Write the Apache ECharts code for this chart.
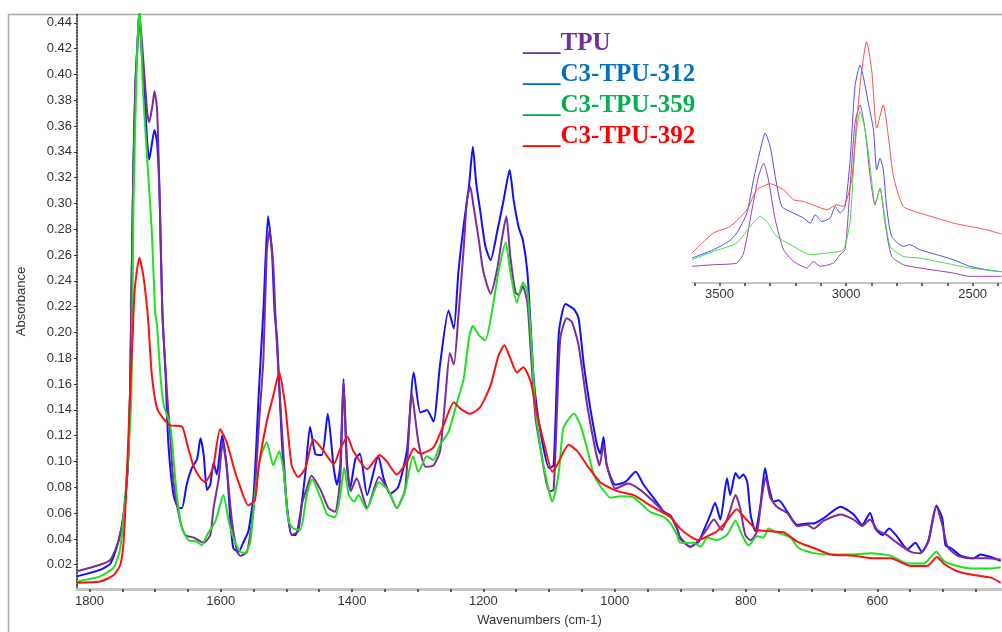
<!DOCTYPE html>
<html>
<head>
<meta charset="utf-8">
<script src="https://cdn.jsdelivr.net/npm/echarts@6.0.0/dist/echarts.min.js"></script>
<style>
html, body { margin: 0; padding: 0; background: #fff; }
#chart { width: 1002px; height: 632px; }
</style>
</head>
<body>
<div id="chart"></div>
<script>
// main spectrum, [wavenumber, absorbance]
var tpu = [
    [1819, 0.015], [1784, 0.020], [1768, 0.024], [1756, 0.038], [1748, 0.059], [1741, 0.102],
    [1738, 0.160], [1736, 0.234], [1733, 0.330], [1730, 0.393], [1726, 0.432], [1724, 0.448],
    [1718, 0.411], [1712, 0.370], [1709, 0.363], [1704, 0.376], [1701, 0.387], [1697, 0.373],
    [1693, 0.303], [1689, 0.216], [1682, 0.154], [1677, 0.120], [1672, 0.084], [1662, 0.054],
    [1654, 0.043], [1641, 0.041], [1626, 0.037], [1616, 0.043], [1611, 0.064], [1603, 0.087],
    [1597, 0.115], [1591, 0.095], [1583, 0.054], [1575, 0.030], [1570, 0.027], [1560, 0.030],
    [1550, 0.064], [1542, 0.128], [1535, 0.180], [1530, 0.262], [1526, 0.279], [1520, 0.252],
    [1517, 0.216], [1512, 0.167], [1504, 0.102], [1499, 0.064], [1492, 0.043], [1482, 0.046],
    [1476, 0.068], [1469, 0.079], [1462, 0.089], [1448, 0.078], [1436, 0.064], [1426, 0.061],
    [1418, 0.087], [1413, 0.161], [1408, 0.097], [1402, 0.077], [1393, 0.087], [1377, 0.064],
    [1359, 0.088], [1344, 0.077], [1332, 0.064], [1319, 0.079], [1309, 0.153], [1299, 0.115],
    [1288, 0.096], [1276, 0.097], [1266, 0.108], [1258, 0.149], [1251, 0.184], [1245, 0.175],
    [1238, 0.213], [1230, 0.265], [1225, 0.303], [1220, 0.313], [1215, 0.298], [1207, 0.272],
    [1200, 0.247], [1189, 0.230], [1179, 0.249], [1172, 0.272], [1165, 0.290], [1159, 0.259],
    [1151, 0.231], [1146, 0.229], [1140, 0.236], [1133, 0.223], [1128, 0.187], [1121, 0.136],
    [1113, 0.110], [1100, 0.077], [1093, 0.078], [1083, 0.195], [1073, 0.211], [1065, 0.208],
    [1055, 0.190], [1042, 0.144], [1029, 0.108], [1023, 0.097], [1017, 0.113], [1012, 0.097],
    [999, 0.079], [979, 0.083], [961, 0.078], [941, 0.069], [925, 0.061], [915, 0.058],
    [905, 0.048], [900, 0.040], [885, 0.034], [872, 0.039], [859, 0.048], [849, 0.055],
    [837, 0.047], [826, 0.059], [816, 0.074], [809, 0.064], [801, 0.043], [793, 0.039],
    [783, 0.046], [776, 0.072], [770, 0.088], [763, 0.072], [753, 0.065], [737, 0.060],
    [722, 0.050], [707, 0.051], [697, 0.048], [682, 0.054], [656, 0.059], [636, 0.055],
    [623, 0.050], [611, 0.055], [600, 0.047], [585, 0.043], [570, 0.037], [549, 0.030],
    [534, 0.029], [522, 0.038], [510, 0.065], [501, 0.051], [493, 0.034], [478, 0.027],
    [458, 0.025], [433, 0.025], [412, 0.024]
];
var tpu312 = [
    [1819, 0.011], [1784, 0.016], [1768, 0.021], [1756, 0.038], [1748, 0.059], [1741, 0.102],
    [1738, 0.160], [1736, 0.234], [1733, 0.330], [1730, 0.393], [1726, 0.432], [1725, 0.445],
    [1716, 0.382], [1712, 0.347], [1709, 0.334], [1701, 0.357], [1697, 0.347], [1693, 0.303],
    [1689, 0.216], [1684, 0.167], [1680, 0.115], [1672, 0.074], [1664, 0.064], [1659, 0.064],
    [1652, 0.082], [1644, 0.095], [1636, 0.102], [1631, 0.118], [1626, 0.105], [1621, 0.078],
    [1616, 0.082], [1611, 0.099], [1606, 0.090], [1598, 0.120], [1591, 0.097], [1586, 0.059],
    [1581, 0.033], [1573, 0.030], [1565, 0.038], [1558, 0.046], [1550, 0.074], [1542, 0.154],
    [1535, 0.218], [1528, 0.290], [1522, 0.262], [1518, 0.216], [1514, 0.193], [1507, 0.116],
    [1499, 0.064], [1492, 0.043], [1486, 0.043], [1479, 0.059], [1471, 0.092], [1464, 0.127],
    [1456, 0.106], [1446, 0.105], [1437, 0.137], [1428, 0.095], [1423, 0.082], [1418, 0.097],
    [1413, 0.164], [1408, 0.102], [1403, 0.079], [1395, 0.102], [1388, 0.106], [1377, 0.074],
    [1360, 0.104], [1352, 0.087], [1342, 0.075], [1330, 0.080], [1321, 0.097], [1316, 0.110],
    [1306, 0.169], [1296, 0.138], [1286, 0.140], [1276, 0.131], [1266, 0.175], [1253, 0.217],
    [1245, 0.203], [1238, 0.247], [1230, 0.283], [1222, 0.313], [1216, 0.344], [1211, 0.316],
    [1205, 0.295], [1197, 0.267], [1189, 0.256], [1179, 0.278], [1169, 0.303], [1160, 0.326],
    [1154, 0.303], [1146, 0.281], [1140, 0.272], [1133, 0.247], [1128, 0.205], [1123, 0.162],
    [1113, 0.123], [1100, 0.095], [1093, 0.097], [1085, 0.200], [1075, 0.222], [1062, 0.218],
    [1055, 0.211], [1047, 0.175], [1037, 0.141], [1027, 0.113], [1022, 0.106], [1017, 0.119],
    [1012, 0.097], [999, 0.082], [984, 0.084], [968, 0.092], [956, 0.082], [941, 0.072],
    [925, 0.061], [915, 0.058], [905, 0.048], [900, 0.041], [885, 0.034], [872, 0.038],
    [864, 0.047], [854, 0.059], [847, 0.068], [839, 0.055], [829, 0.087], [824, 0.074],
    [816, 0.091], [810, 0.087], [804, 0.090], [798, 0.084], [793, 0.059], [786, 0.046],
    [778, 0.066], [771, 0.095], [766, 0.082], [758, 0.069], [750, 0.070], [737, 0.061],
    [722, 0.051], [707, 0.052], [697, 0.052], [682, 0.056], [656, 0.065], [636, 0.059],
    [623, 0.051], [611, 0.060], [603, 0.048], [592, 0.043], [582, 0.048], [570, 0.042],
    [554, 0.032], [542, 0.037], [532, 0.030], [522, 0.039], [510, 0.066], [501, 0.056],
    [496, 0.035], [488, 0.033], [473, 0.027], [453, 0.025], [443, 0.028], [427, 0.026],
    [412, 0.023]
];
var tpu359 = [
    [1819, 0.007], [1784, 0.011], [1763, 0.018], [1753, 0.033], [1743, 0.090], [1736, 0.154],
    [1733, 0.300], [1728, 0.406], [1724, 0.452], [1718, 0.383], [1712, 0.334], [1705, 0.278],
    [1700, 0.216], [1697, 0.205], [1692, 0.167], [1687, 0.144], [1677, 0.128], [1672, 0.102],
    [1667, 0.074], [1659, 0.048], [1649, 0.039], [1637, 0.038], [1629, 0.035], [1621, 0.043],
    [1608, 0.054], [1596, 0.074], [1588, 0.054], [1581, 0.041], [1570, 0.030], [1563, 0.029],
    [1555, 0.038], [1548, 0.074], [1540, 0.102], [1530, 0.115], [1520, 0.097], [1511, 0.108],
    [1504, 0.092], [1497, 0.054], [1489, 0.048], [1479, 0.047], [1469, 0.074], [1461, 0.086],
    [1448, 0.072], [1438, 0.059], [1426, 0.057], [1418, 0.074], [1412, 0.095], [1405, 0.074],
    [1397, 0.069], [1390, 0.074], [1378, 0.063], [1359, 0.084], [1344, 0.077], [1332, 0.064],
    [1320, 0.076], [1307, 0.104], [1299, 0.092], [1286, 0.104], [1276, 0.101], [1266, 0.113],
    [1253, 0.123], [1240, 0.146], [1230, 0.164], [1222, 0.195], [1216, 0.205], [1207, 0.198],
    [1197, 0.194], [1187, 0.216], [1177, 0.247], [1166, 0.270], [1159, 0.247], [1149, 0.223],
    [1140, 0.239], [1133, 0.232], [1128, 0.200], [1121, 0.144], [1113, 0.110], [1100, 0.077],
    [1095, 0.069], [1085, 0.092], [1078, 0.126], [1062, 0.137], [1052, 0.128], [1042, 0.110],
    [1032, 0.090], [1022, 0.081], [1006, 0.072], [991, 0.073], [971, 0.072], [946, 0.061],
    [925, 0.057], [915, 0.052], [905, 0.043], [900, 0.037], [880, 0.037], [869, 0.034],
    [859, 0.041], [844, 0.039], [829, 0.043], [816, 0.054], [806, 0.043], [796, 0.035],
    [783, 0.042], [773, 0.041], [766, 0.048], [753, 0.045], [732, 0.041], [720, 0.033],
    [697, 0.029], [671, 0.028], [636, 0.028], [610, 0.029], [580, 0.027], [554, 0.021],
    [529, 0.021], [510, 0.030], [499, 0.023], [478, 0.019], [453, 0.017], [427, 0.017],
    [412, 0.018]
];
var tpu392 = [
    [1819, 0.006], [1784, 0.007], [1763, 0.012], [1753, 0.020], [1748, 0.038], [1743, 0.090],
    [1738, 0.154], [1734, 0.200], [1731, 0.234], [1724, 0.258], [1718, 0.244], [1712, 0.218],
    [1710, 0.205], [1705, 0.167], [1697, 0.141], [1687, 0.133], [1677, 0.128], [1659, 0.127],
    [1652, 0.115], [1642, 0.097], [1631, 0.087], [1624, 0.084], [1616, 0.090], [1611, 0.097],
    [1601, 0.125], [1591, 0.115], [1580, 0.095], [1575, 0.087], [1558, 0.066], [1548, 0.070],
    [1542, 0.097], [1530, 0.131], [1520, 0.151], [1511, 0.169], [1502, 0.144], [1492, 0.097],
    [1482, 0.088], [1471, 0.095], [1459, 0.117], [1446, 0.110], [1428, 0.098], [1418, 0.110],
    [1407, 0.119], [1398, 0.108], [1377, 0.094], [1358, 0.105], [1347, 0.100], [1332, 0.090],
    [1316, 0.100], [1306, 0.110], [1296, 0.106], [1276, 0.111], [1260, 0.129], [1245, 0.146],
    [1235, 0.141], [1220, 0.137], [1205, 0.142], [1189, 0.159], [1177, 0.182], [1168, 0.190],
    [1159, 0.180], [1149, 0.169], [1139, 0.173], [1128, 0.162], [1118, 0.136], [1108, 0.115],
    [1095, 0.092], [1088, 0.097], [1070, 0.113], [1057, 0.108], [1042, 0.097], [1022, 0.084],
    [996, 0.077], [971, 0.074], [946, 0.066], [925, 0.060], [915, 0.057], [900, 0.048],
    [885, 0.042], [872, 0.039], [859, 0.042], [844, 0.046], [829, 0.054], [814, 0.063],
    [801, 0.056], [783, 0.047], [763, 0.046], [742, 0.045], [722, 0.038], [697, 0.033],
    [671, 0.028], [636, 0.027], [605, 0.025], [580, 0.025], [549, 0.019], [524, 0.019],
    [509, 0.026], [499, 0.021], [478, 0.015], [453, 0.012], [427, 0.010], [412, 0.006]
];

// inset, 3600-2400 cm-1, unscaled height
var insetTpu = [
    [3609, 5], [3524, 5.5], [3432, 6], [3405, 9], [3372, 22], [3346, 32], [3326, 36], [3307, 31],
    [3280, 19], [3247, 10], [3208, 6.5], [3155, 4.5], [3129, 6.5], [3103, 5], [3050, 6],
    [3024, 8.5], [3004, 10], [2984, 29], [2965, 48], [2945, 53.5], [2925, 46], [2905, 32],
    [2886, 23.5], [2866, 28.5], [2846, 18], [2820, 8], [2774, 5.5], [2708, 4.5], [2577, 3],
    [2511, 2], [2400, 2], [2385, 2]
];
var inset312 = [
    [3609, 7.5], [3524, 10], [3464, 12.5], [3432, 15], [3392, 21], [3366, 31], [3339, 40],
    [3320, 45], [3300, 41], [3280, 32], [3254, 23], [3208, 21], [3168, 19.5], [3142, 18],
    [3122, 20.5], [3096, 18.5], [3063, 19.5], [3043, 23], [3024, 21], [3004, 23], [2984, 37],
    [2965, 59], [2945, 65.5], [2932, 62], [2912, 54], [2892, 46], [2879, 34], [2866, 37.5],
    [2853, 34], [2840, 23], [2820, 14], [2774, 11], [2748, 11.5], [2708, 10], [2642, 8.5],
    [2577, 7], [2511, 5], [2445, 4], [2400, 3.5], [2385, 3.4]
];
var inset359 = [
    [3609, 7], [3524, 9.5], [3432, 12], [3379, 17], [3339, 20], [3313, 18.5], [3274, 14],
    [3208, 11], [3142, 8.5], [3076, 9], [3011, 10], [2984, 19], [2965, 41], [2945, 51.5],
    [2925, 46], [2905, 35], [2886, 24], [2879, 25], [2866, 28.5], [2853, 23], [2826, 11],
    [2774, 8], [2708, 7.5], [2642, 6.5], [2577, 5.5], [2511, 4.5], [2400, 3.5], [2385, 3.4]
];
var inset392 = [
    [3609, 9], [3524, 15], [3458, 17], [3392, 22], [3353, 28], [3300, 29.8], [3247, 28],
    [3208, 25], [3168, 24.5], [3116, 23], [3076, 22], [3037, 23.5], [3011, 23], [2978, 31],
    [2958, 49], [2938, 64], [2919, 72.5], [2899, 64], [2879, 46.5], [2853, 53.5], [2833, 44],
    [2813, 32], [2774, 23], [2708, 21], [2642, 19.5], [2577, 18], [2511, 17], [2445, 16],
    [2400, 15], [2385, 14.8]
];

var names = ['TPU', 'C3-TPU-312', 'C3-TPU-359', 'C3-TPU-392'];
var legendColors = ['#7030a0', '#0070c0', '#00b050', '#ff0000'];
var lineColors = ['#7f2a9a', '#1010ff', '#20e020', '#ff1010'];
var insetColors = ['#9a40b0', '#4a4aff', '#40e040', '#ff4a4a'];

var xLabels = [600, 800, 1000, 1200, 1400, 1600, 1800];
var xTicks = [450, 500, 550, 600, 650, 700, 750, 800, 850, 900, 950, 1000, 1050, 1100, 1150,
    1200, 1250, 1300, 1350, 1400, 1450, 1500, 1550, 1600, 1650, 1700, 1750, 1800];
var yLabels = [0.02, 0.04, 0.06, 0.08, 0.10, 0.12, 0.14, 0.16, 0.18, 0.20, 0.22, 0.24, 0.26,
    0.28, 0.30, 0.32, 0.34, 0.36, 0.38, 0.40, 0.42, 0.44];
var insetLabels = [2500, 3000, 3500];
var insetTicks = [2400, 2500, 2600, 2700, 2800, 2900, 3000, 3100, 3200, 3300, 3400, 3500, 3600];

var mainData = [tpu, tpu312, tpu359, tpu392];
var insetData = [insetTpu, inset312, inset359, inset392];
var drawOrder = [1, 0, 2, 3];

var myChart = echarts.init(document.getElementById('chart'));

var series = [];
drawOrder.forEach(function (i) {
    series.push({
        name: names[i],
        type: 'line',
        xAxisIndex: 0,
        yAxisIndex: 0,
        data: mainData[i],
        symbol: 'none',
        smooth: 0.2,
        lineStyle: { color: lineColors[i], width: 2 },
        itemStyle: { color: lineColors[i] }
    });
});
drawOrder.forEach(function (i) {
    series.push({
        name: names[i],
        type: 'line',
        xAxisIndex: 1,
        yAxisIndex: 1,
        data: insetData[i],
        symbol: 'none',
        smooth: 0.2,
        lineStyle: { color: insetColors[i], width: 1 },
        itemStyle: { color: insetColors[i] }
    });
});

var axisFont = { color: '#333', fontSize: 13, fontFamily: 'Liberation Sans, Arial, sans-serif' };
var plainNumber = function (v) { return String(v); };

var option = {
    animation: false,
    backgroundColor: '#fff',
    graphic: [{
        type: 'rect',
        shape: { x: 8.5, y: 14.5, width: 1100, height: 700 },
        style: { fill: null, stroke: '#a8a8a8', lineWidth: 1.5 },
        silent: true
    }],
    legend: {
        data: names.map(function (n, i) {
            return { name: n, textStyle: { color: legendColors[i] } };
        }),
        orient: 'vertical',
        left: 517,
        top: 31,
        padding: 0,
        icon: 'none',
        itemWidth: 1,
        itemHeight: 1,
        itemGap: 6,
        selectedMode: false,
        formatter: function (name) { return '___' + name; },
        textStyle: {
            fontFamily: 'Liberation Serif, Times New Roman, serif',
            fontWeight: 'bold',
            fontSize: 25,
            lineHeight: 25
        }
    },
    grid: [
        { left: 77, top: 14, right: 0, bottom: 41 },
        { left: 693, top: 20, right: 0, height: 263 }
    ],
    xAxis: [{
        type: 'value',
        gridIndex: 0,
        inverse: true,
        min: 410,
        max: 1819,
        name: 'Wavenumbers (cm-1)',
        nameLocation: 'middle',
        nameGap: 25,
        nameTextStyle: axisFont,
        splitLine: { show: false },
        axisLine: { show: true, onZero: false, lineStyle: { color: '#c4c4c4', width: 3 } },
        axisTick: { show: true, length: 3, customValues: xTicks, lineStyle: { color: '#333', width: 1.5 } },
        axisLabel: Object.assign({ customValues: xLabels, margin: 6, formatter: plainNumber }, axisFont)
    }, {
        type: 'value',
        gridIndex: 1,
        inverse: true,
        min: 2384,
        max: 3605,
        splitLine: { show: false },
        axisLine: { show: true, onZero: false, lineStyle: { color: '#c4c4c4', width: 2 } },
        axisTick: { show: true, length: 3, customValues: insetTicks, lineStyle: { color: '#333', width: 1.5 } },
        axisLabel: Object.assign({ customValues: insetLabels, margin: 5, formatter: plainNumber }, axisFont)
    }],
    yAxis: [{
        type: 'value',
        gridIndex: 0,
        min: 0.0012,
        max: 0.4468,
        name: 'Absorbance',
        nameLocation: 'middle',
        nameGap: 49,
        nameTextStyle: axisFont,
        splitLine: { show: false },
        axisLine: { show: true, lineStyle: { color: '#111', width: 1.5, type: [1.5, 1.5] } },
        axisTick: { show: true, length: 3, customValues: yLabels, lineStyle: { color: '#333' } },
        axisLabel: Object.assign({
            customValues: yLabels,
            margin: 5,
            formatter: function (v) { return v.toFixed(2); }
        }, axisFont)
    }, {
        type: 'value',
        gridIndex: 1,
        min: 0,
        max: 79,
        show: false
    }],
    series: series
};

myChart.setOption(option);
</script>
</body>
</html>
